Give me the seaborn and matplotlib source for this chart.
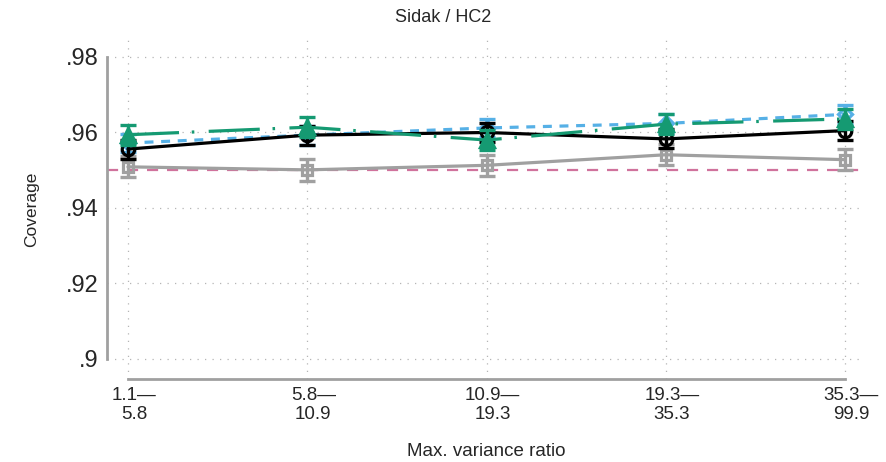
import numpy as np
import pandas as pd
import matplotlib
matplotlib.use("Agg")
import matplotlib.pyplot as plt
import matplotlib.transforms as mtransforms
import seaborn as sns

# Variance-ratio bins on the x axis
bins = ["1.1—\n5.8", "5.8—\n10.9", "10.9—\n19.3", "19.3—\n35.3", "35.3—\n99.9"]

# Coverage estimates per method, with half-widths of the intervals
cov_black = [0.9556, 0.9593, 0.9600, 0.9583, 0.9605]
err_black = [0.0025, 0.0025, 0.0025, 0.0025, 0.0025]
cov_gray = [0.9509, 0.9501, 0.9513, 0.9541, 0.9528]
err_gray = [0.0028, 0.0030, 0.0028, 0.0028, 0.0028]
cov_green = [0.9594, 0.9614, 0.9580, 0.9622, 0.9636]
err_green = [0.0027, 0.0027, 0.0027, 0.0027, 0.0027]
cov_blue = [0.9572, 0.9593, 0.9612, 0.9624, 0.9648]
err_blue = [0.0025, 0.0025, 0.0025, 0.0025, 0.0025]

nominal = 0.95
yticks = [0.90, 0.92, 0.94, 0.96, 0.98]
ytick_labels = [".9", ".92", ".94", ".96", ".98"]

sns.set_theme(style="white")
plt.rcParams["font.family"] = ["Liberation Sans", "DejaVu Sans"]

fig = plt.figure(figsize=(8.87, 4.62), dpi=100)
ax = fig.add_axes([0.1206, 0.1797, 0.975 - 0.1206, 0.9134 - 0.1797])

x = np.arange(len(bins))

# drawing order: gray, blue, black, green (last on top)
series = [
    ("gray", cov_gray, err_gray, "#a0a0a0", "s", 7.5, "none", None),
    ("blue", cov_blue, err_blue, "#56b0e6", "D", 7.5, "none", (2.8, 2.4)),
    ("black", cov_black, err_black, "#000000", "o", 9, "none", None),
    ("green", cov_green, err_green, "#159a72", "^", 9.5, "#159a72", (16, 4, 0.8, 4.5)),
]

frames = []
for name, vals, errs, *_ in series:
    frames.append(pd.DataFrame({"x": x, "cov": vals, "err": errs, "method": name}))
df = pd.concat(frames, ignore_index=True)

# dotted grid
for xv in x:
    ax.axvline(xv, color="#b5b5b5", lw=0.9, ls=(0, (1, 5)), zorder=0)
for yv in yticks:
    ax.axhline(yv, color="#b5b5b5", lw=0.9, ls=(0, (1, 5)), zorder=0)

ax.axhline(nominal, color="#d0729c", lw=1.6, ls=(0, (5, 4)), zorder=1)

for i, (name, vals, errs, color, marker, msize, face, dash) in enumerate(series):
    sub = df[df["method"] == name]
    ax.errorbar(sub["x"], sub["cov"], yerr=sub["err"], fmt="none",
                ecolor=color, elinewidth=2.4, capsize=5.5, capthick=2.4,
                zorder=3 + i)
    sns.lineplot(data=sub, x="x", y="cov", ax=ax, color=color, lw=2.3,
                 marker=marker, markersize=msize,
                 markerfacecolor=face, markeredgecolor=color,
                 markeredgewidth=2.3, zorder=3 + i, legend=False)
    if dash is not None:
        ax.lines[-1].set_dashes(dash)

ax.set_xlim(-0.117, 4.11)
ax.set_ylim(0.8947, 0.9845)
ax.set_xticks(x)
ax.set_xticklabels(bins, fontsize=13.5, linespacing=1.15)
ax.set_yticks(yticks)
ax.set_yticklabels(ytick_labels, fontsize=17)
ax.tick_params(axis="both", length=0)
ax.tick_params(axis="y", pad=6)
ax.tick_params(axis="x", pad=6)

shift = mtransforms.ScaledTranslation(6 / 100, 0, fig.dpi_scale_trans)
for lab in ax.get_xticklabels():
    lab.set_transform(lab.get_transform() + shift)

for s in ["top", "right"]:
    ax.spines[s].set_visible(False)
ax.spines["left"].set_color("#a0a0a0")
ax.spines["left"].set_linewidth(2)
ax.spines["left"].set_bounds(0.90, 0.98)
ax.spines["bottom"].set_color("#a0a0a0")
ax.spines["bottom"].set_linewidth(2)
ax.spines["bottom"].set_bounds(0, 4)

ax.set_xlabel("Max. variance ratio", fontsize=13.5, labelpad=14)
ax.set_ylabel("Coverage", fontsize=12.5, labelpad=19)
fig.suptitle("Sidak / HC2", fontsize=13, x=0.5, y=0.98, va="top")

fig.savefig("out.png", dpi=100)
